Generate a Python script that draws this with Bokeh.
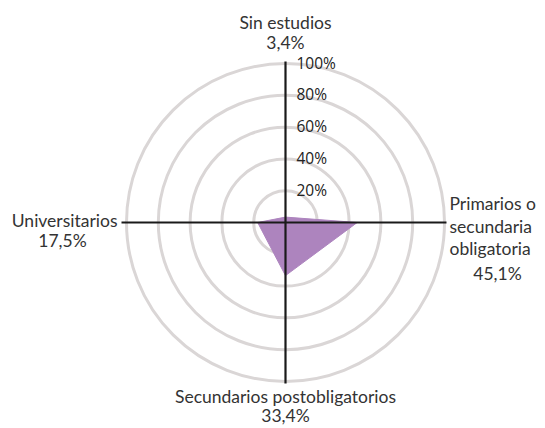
import math
from bokeh.plotting import figure
from bokeh.models import Range1d
from bokeh.core.properties import value
from bokeh.embed import file_html
from bokeh.resources import INLINE

categories = ["Sin estudios", "Primarios o\nsecundaria\nobligatoria", "Secundarios postobligatorios", "Universitarios"]
values = [3.4, 45.1, 33.4, 17.5]
value_labels = ["3,4%", "45,1%", "33,4%", "17,5%"]
ticks = [20, 40, 60, 80, 100]
tick_labels = ["20%", "40%", "60%", "80%", "100%"]

R = 159.0  # radius of 100% ring in data units (1 unit = 1 px)
angles = [90, 0, -90, 180]  # top, right, bottom, left

p = figure(width=543, height=426, output_backend="svg", toolbar_location=None,
           x_range=Range1d(-285, 258), y_range=Range1d(-204, 222),
           min_border=0, outline_line_color=None)
p.axis.visible = False
p.grid.visible = False
p.background_fill_color = "white"
p.border_fill_color = "white"

# rings
p.circle(x=[0]*len(ticks), y=[0]*len(ticks), radius=[t/100*R for t in ticks],
         fill_color=None, line_color="#dad6d6", line_width=3)

# polygon
xs = [v/100*R*math.cos(math.radians(a)) for v, a in zip(values, angles)]
ys = [v/100*R*math.sin(math.radians(a)) for v, a in zip(values, angles)]
p.patch(xs, ys, fill_color="#ad84be", line_color="#ad84be", line_width=1)

# axes
p.segment(x0=[0, -R - 5], y0=[-R - 2, 0], x1=[0, R + 2], y1=[R + 2, 0],
          line_color="#1a1a1a", line_width=2.2)

# tick labels
p.text(x=[11]*len(ticks), y=[t/100*R + 1 for t in ticks], text=tick_labels,
       text_font=value("Open Sans"), text_font_size="15.5px", text_color="#222222",
       text_baseline="middle", text_align="left")

font = value("Lato")
fs = "17.5px"
col = "#333333"
# top
p.text(x=[0], y=[R + 41], text=[categories[0]], text_font=font, text_font_size=fs,
       text_color=col, text_align="center", text_baseline="middle")
p.text(x=[0], y=[R + 21], text=[value_labels[0]], text_font=font, text_font_size=fs,
       text_color=col, text_align="center", text_baseline="middle")
# right
right_lines = categories[1].split("\n")
p.text(x=[164]*3, y=[19, -4, -26], text=right_lines, text_font=font, text_font_size=fs,
       text_color=col, text_align="left", text_baseline="middle")
p.text(x=[212], y=[-51], text=[value_labels[1]], text_font=font, text_font_size=fs,
       text_color=col, text_align="center", text_baseline="middle")
# bottom
p.text(x=[0], y=[-174], text=[categories[2]], text_font=font, text_font_size=fs,
       text_color=col, text_align="center", text_baseline="middle")
p.text(x=[0], y=[-192.5], text=[value_labels[2]], text_font=font, text_font_size=fs,
       text_color=col, text_align="center", text_baseline="middle")
# left
p.text(x=[-168], y=[2], text=[categories[3]], text_font=font, text_font_size=fs,
       text_color=col, text_align="right", text_baseline="middle")
p.text(x=[-223], y=[-18], text=[value_labels[3]], text_font=font, text_font_size=fs,
       text_color=col, text_align="center", text_baseline="middle")

open("out.html", "w").write(file_html(p, INLINE))
